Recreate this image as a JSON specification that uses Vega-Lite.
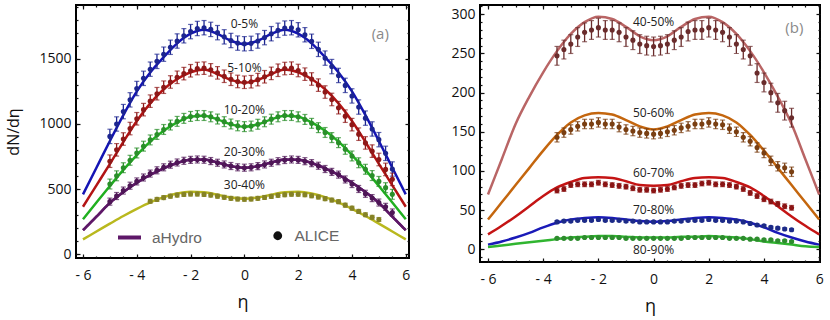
{
"$schema": "https://vega.github.io/schema/vega-lite/v6.json",
"padding": {"left": 4, "top": 3, "right": 0, "bottom": 0},
"spacing": 37,
"config": {
  "view": {"stroke": "#000", "strokeWidth": 2},
  "font": "Open Sans",
  "axis": {"domain": false, "grid": false, "labelFont": "Open Sans", "labelFontSize": 14, "labelColor": "#111", "tickColor": "#111", "tickWidth": 1.2, "titleFont": "Open Sans", "titleFontWeight": "normal", "titleColor": "#111", "labelOverlap": false, "labelFlush": false, "labelBound": false}
},
"resolve": {"scale": {"shape": "independent", "strokeDash": "independent"}, "legend": {"shape": "independent", "strokeDash": "independent"}},
"datasets": {
"lines_a": [
{"s":"0-5%","x":-6,"y":461},{"s":"0-5%","x":-5.5,"y":665},{"s":"0-5%","x":-5,"y":870},{"s":"0-5%","x":-4.5,"y":1068},{"s":"0-5%","x":-4,"y":1250},{"s":"0-5%","x":-3.5,"y":1395},{"s":"0-5%","x":-3,"y":1512},{"s":"0-5%","x":-2.5,"y":1618},{"s":"0-5%","x":-2,"y":1692},{"s":"0-5%","x":-1.5,"y":1722},{"s":"0-5%","x":-1,"y":1690},{"s":"0-5%","x":-0.5,"y":1638},{"s":"0-5%","x":0,"y":1612},{"s":"0-5%","x":0.5,"y":1638},{"s":"0-5%","x":1,"y":1690},{"s":"0-5%","x":1.5,"y":1722},{"s":"0-5%","x":2,"y":1692},{"s":"0-5%","x":2.5,"y":1618},{"s":"0-5%","x":3,"y":1512},{"s":"0-5%","x":3.5,"y":1395},{"s":"0-5%","x":4,"y":1250},{"s":"0-5%","x":4.5,"y":1068},{"s":"0-5%","x":5,"y":870},{"s":"0-5%","x":5.5,"y":665},{"s":"0-5%","x":6,"y":461},
{"s":"5-10%","x":-6,"y":366},{"s":"5-10%","x":-5.5,"y":530},{"s":"5-10%","x":-5,"y":694},{"s":"5-10%","x":-4.5,"y":862},{"s":"5-10%","x":-4,"y":1023},{"s":"5-10%","x":-3.5,"y":1158},{"s":"5-10%","x":-3,"y":1266},{"s":"5-10%","x":-2.5,"y":1345},{"s":"5-10%","x":-2,"y":1397},{"s":"5-10%","x":-1.5,"y":1418},{"s":"5-10%","x":-1,"y":1382},{"s":"5-10%","x":-0.5,"y":1338},{"s":"5-10%","x":0,"y":1316},{"s":"5-10%","x":0.5,"y":1338},{"s":"5-10%","x":1,"y":1382},{"s":"5-10%","x":1.5,"y":1418},{"s":"5-10%","x":2,"y":1397},{"s":"5-10%","x":2.5,"y":1345},{"s":"5-10%","x":3,"y":1266},{"s":"5-10%","x":3.5,"y":1158},{"s":"5-10%","x":4,"y":1023},{"s":"5-10%","x":4.5,"y":862},{"s":"5-10%","x":5,"y":694},{"s":"5-10%","x":5.5,"y":530},{"s":"5-10%","x":6,"y":366},
{"s":"10-20%","x":-6,"y":270},{"s":"10-20%","x":-5.5,"y":398},{"s":"10-20%","x":-5,"y":525},{"s":"10-20%","x":-4.5,"y":648},{"s":"10-20%","x":-4,"y":762},{"s":"10-20%","x":-3.5,"y":865},{"s":"10-20%","x":-3,"y":948},{"s":"10-20%","x":-2.5,"y":1012},{"s":"10-20%","x":-2,"y":1055},{"s":"10-20%","x":-1.5,"y":1064},{"s":"10-20%","x":-1,"y":1035},{"s":"10-20%","x":-0.5,"y":997},{"s":"10-20%","x":0,"y":979},{"s":"10-20%","x":0.5,"y":997},{"s":"10-20%","x":1,"y":1035},{"s":"10-20%","x":1.5,"y":1064},{"s":"10-20%","x":2,"y":1055},{"s":"10-20%","x":2.5,"y":1012},{"s":"10-20%","x":3,"y":948},{"s":"10-20%","x":3.5,"y":865},{"s":"10-20%","x":4,"y":762},{"s":"10-20%","x":4.5,"y":648},{"s":"10-20%","x":5,"y":525},{"s":"10-20%","x":5.5,"y":398},{"s":"10-20%","x":6,"y":270},
{"s":"20-30%","x":-6,"y":186},{"s":"20-30%","x":-5.5,"y":290},{"s":"20-30%","x":-5,"y":395},{"s":"20-30%","x":-4.5,"y":478},{"s":"20-30%","x":-4,"y":550},{"s":"20-30%","x":-3.5,"y":610},{"s":"20-30%","x":-3,"y":660},{"s":"20-30%","x":-2.5,"y":701},{"s":"20-30%","x":-2,"y":726},{"s":"20-30%","x":-1.5,"y":727},{"s":"20-30%","x":-1,"y":705},{"s":"20-30%","x":-0.5,"y":677},{"s":"20-30%","x":0,"y":665},{"s":"20-30%","x":0.5,"y":677},{"s":"20-30%","x":1,"y":705},{"s":"20-30%","x":1.5,"y":727},{"s":"20-30%","x":2,"y":726},{"s":"20-30%","x":2.5,"y":701},{"s":"20-30%","x":3,"y":660},{"s":"20-30%","x":3.5,"y":610},{"s":"20-30%","x":4,"y":550},{"s":"20-30%","x":4.5,"y":478},{"s":"20-30%","x":5,"y":395},{"s":"20-30%","x":5.5,"y":290},{"s":"20-30%","x":6,"y":186},
{"s":"30-40%","x":-6,"y":116},{"s":"30-40%","x":-5.5,"y":176},{"s":"30-40%","x":-5,"y":236},{"s":"30-40%","x":-4.5,"y":295},{"s":"30-40%","x":-4,"y":350},{"s":"30-40%","x":-3.5,"y":400},{"s":"30-40%","x":-3,"y":440},{"s":"30-40%","x":-2.5,"y":468},{"s":"30-40%","x":-2,"y":480},{"s":"30-40%","x":-1.5,"y":476},{"s":"30-40%","x":-1,"y":458},{"s":"30-40%","x":-0.5,"y":437},{"s":"30-40%","x":0,"y":428},{"s":"30-40%","x":0.5,"y":437},{"s":"30-40%","x":1,"y":458},{"s":"30-40%","x":1.5,"y":476},{"s":"30-40%","x":2,"y":480},{"s":"30-40%","x":2.5,"y":468},{"s":"30-40%","x":3,"y":440},{"s":"30-40%","x":3.5,"y":400},{"s":"30-40%","x":4,"y":350},{"s":"30-40%","x":4.5,"y":295},{"s":"30-40%","x":5,"y":236},{"s":"30-40%","x":5.5,"y":176},{"s":"30-40%","x":6,"y":116}
],
"pts_a": [
{"s":"0-5%","x":-5,"y":905,"e":55},{"s":"0-5%","x":-4.75,"y":1000,"e":55},{"s":"0-5%","x":-4.5,"y":1095,"e":55},{"s":"0-5%","x":-4.25,"y":1185,"e":55},{"s":"0-5%","x":-4,"y":1272,"e":55},{"s":"0-5%","x":-3.75,"y":1350,"e":55},{"s":"0-5%","x":-3.5,"y":1420,"e":55},{"s":"0-5%","x":-3.25,"y":1480,"e":55},{"s":"0-5%","x":-3,"y":1535,"e":55},{"s":"0-5%","x":-2.75,"y":1588,"e":55},{"s":"0-5%","x":-2.5,"y":1636,"e":55},{"s":"0-5%","x":-2.25,"y":1676,"e":55},{"s":"0-5%","x":-2,"y":1708,"e":55},{"s":"0-5%","x":-1.75,"y":1732,"e":55},{"s":"0-5%","x":-1.5,"y":1738,"e":55},{"s":"0-5%","x":-1.25,"y":1725,"e":55},{"s":"0-5%","x":-1,"y":1700,"e":55},{"s":"0-5%","x":-0.75,"y":1668,"e":55},{"s":"0-5%","x":-0.5,"y":1640,"e":55},{"s":"0-5%","x":-0.25,"y":1620,"e":55},{"s":"0-5%","x":0,"y":1615,"e":55},{"s":"0-5%","x":0.25,"y":1618,"e":55},{"s":"0-5%","x":0.5,"y":1636,"e":55},{"s":"0-5%","x":0.75,"y":1662,"e":55},{"s":"0-5%","x":1,"y":1692,"e":55},{"s":"0-5%","x":1.25,"y":1718,"e":55},{"s":"0-5%","x":1.5,"y":1735,"e":55},{"s":"0-5%","x":1.75,"y":1738,"e":55},{"s":"0-5%","x":2,"y":1722,"e":55},{"s":"0-5%","x":2.25,"y":1684,"e":55},{"s":"0-5%","x":2.5,"y":1634,"e":55},{"s":"0-5%","x":2.75,"y":1572,"e":55},{"s":"0-5%","x":3,"y":1505,"e":55},{"s":"0-5%","x":3.25,"y":1440,"e":55},{"s":"0-5%","x":3.5,"y":1372,"e":55},{"s":"0-5%","x":3.75,"y":1296,"e":55},{"s":"0-5%","x":4,"y":1215,"e":55},{"s":"0-5%","x":4.25,"y":1130,"e":55},{"s":"0-5%","x":4.5,"y":1045,"e":55},{"s":"0-5%","x":4.75,"y":962,"e":55},{"s":"0-5%","x":5,"y":880,"e":55},{"s":"0-5%","x":5.25,"y":775,"e":55},{"s":"0-5%","x":5.5,"y":655,"e":55},
{"s":"5-10%","x":-5,"y":715,"e":48},{"s":"5-10%","x":-4.75,"y":802,"e":48},{"s":"5-10%","x":-4.5,"y":885,"e":48},{"s":"5-10%","x":-4.25,"y":965,"e":48},{"s":"5-10%","x":-4,"y":1040,"e":48},{"s":"5-10%","x":-3.75,"y":1110,"e":48},{"s":"5-10%","x":-3.5,"y":1175,"e":48},{"s":"5-10%","x":-3.25,"y":1232,"e":48},{"s":"5-10%","x":-3,"y":1282,"e":48},{"s":"5-10%","x":-2.75,"y":1322,"e":48},{"s":"5-10%","x":-2.5,"y":1358,"e":48},{"s":"5-10%","x":-2.25,"y":1386,"e":48},{"s":"5-10%","x":-2,"y":1408,"e":48},{"s":"5-10%","x":-1.75,"y":1425,"e":48},{"s":"5-10%","x":-1.5,"y":1428,"e":48},{"s":"5-10%","x":-1.25,"y":1415,"e":48},{"s":"5-10%","x":-1,"y":1392,"e":48},{"s":"5-10%","x":-0.75,"y":1366,"e":48},{"s":"5-10%","x":-0.5,"y":1343,"e":48},{"s":"5-10%","x":-0.25,"y":1326,"e":48},{"s":"5-10%","x":0,"y":1320,"e":48},{"s":"5-10%","x":0.25,"y":1324,"e":48},{"s":"5-10%","x":0.5,"y":1340,"e":48},{"s":"5-10%","x":0.75,"y":1362,"e":48},{"s":"5-10%","x":1,"y":1388,"e":48},{"s":"5-10%","x":1.25,"y":1412,"e":48},{"s":"5-10%","x":1.5,"y":1425,"e":48},{"s":"5-10%","x":1.75,"y":1428,"e":48},{"s":"5-10%","x":2,"y":1410,"e":48},{"s":"5-10%","x":2.25,"y":1382,"e":48},{"s":"5-10%","x":2.5,"y":1345,"e":48},{"s":"5-10%","x":2.75,"y":1298,"e":48},{"s":"5-10%","x":3,"y":1245,"e":48},{"s":"5-10%","x":3.25,"y":1188,"e":48},{"s":"5-10%","x":3.5,"y":1125,"e":48},{"s":"5-10%","x":3.75,"y":1060,"e":48},{"s":"5-10%","x":4,"y":995,"e":48},{"s":"5-10%","x":4.25,"y":922,"e":48},{"s":"5-10%","x":4.5,"y":855,"e":48},{"s":"5-10%","x":4.75,"y":792,"e":48},{"s":"5-10%","x":5,"y":728,"e":48},{"s":"5-10%","x":5.25,"y":652,"e":48},{"s":"5-10%","x":5.5,"y":576,"e":48},
{"s":"10-20%","x":-5,"y":540,"e":38},{"s":"10-20%","x":-4.75,"y":603,"e":38},{"s":"10-20%","x":-4.5,"y":665,"e":38},{"s":"10-20%","x":-4.25,"y":722,"e":38},{"s":"10-20%","x":-4,"y":778,"e":38},{"s":"10-20%","x":-3.75,"y":830,"e":38},{"s":"10-20%","x":-3.5,"y":878,"e":38},{"s":"10-20%","x":-3.25,"y":920,"e":38},{"s":"10-20%","x":-3,"y":958,"e":38},{"s":"10-20%","x":-2.75,"y":992,"e":38},{"s":"10-20%","x":-2.5,"y":1020,"e":38},{"s":"10-20%","x":-2.25,"y":1043,"e":38},{"s":"10-20%","x":-2,"y":1058,"e":38},{"s":"10-20%","x":-1.75,"y":1065,"e":38},{"s":"10-20%","x":-1.5,"y":1065,"e":38},{"s":"10-20%","x":-1.25,"y":1055,"e":38},{"s":"10-20%","x":-1,"y":1038,"e":38},{"s":"10-20%","x":-0.75,"y":1018,"e":38},{"s":"10-20%","x":-0.5,"y":1000,"e":38},{"s":"10-20%","x":-0.25,"y":986,"e":38},{"s":"10-20%","x":0,"y":980,"e":38},{"s":"10-20%","x":0.25,"y":984,"e":38},{"s":"10-20%","x":0.5,"y":998,"e":38},{"s":"10-20%","x":0.75,"y":1017,"e":38},{"s":"10-20%","x":1,"y":1037,"e":38},{"s":"10-20%","x":1.25,"y":1055,"e":38},{"s":"10-20%","x":1.5,"y":1065,"e":38},{"s":"10-20%","x":1.75,"y":1065,"e":38},{"s":"10-20%","x":2,"y":1055,"e":38},{"s":"10-20%","x":2.25,"y":1035,"e":38},{"s":"10-20%","x":2.5,"y":1005,"e":38},{"s":"10-20%","x":2.75,"y":972,"e":38},{"s":"10-20%","x":3,"y":935,"e":38},{"s":"10-20%","x":3.25,"y":896,"e":38},{"s":"10-20%","x":3.5,"y":857,"e":38},{"s":"10-20%","x":3.75,"y":806,"e":38},{"s":"10-20%","x":4,"y":755,"e":38},{"s":"10-20%","x":4.25,"y":703,"e":38},{"s":"10-20%","x":4.5,"y":653,"e":38},{"s":"10-20%","x":4.75,"y":605,"e":38},{"s":"10-20%","x":5,"y":560,"e":38},{"s":"10-20%","x":5.25,"y":512,"e":38},{"s":"10-20%","x":5.5,"y":461,"e":38},
{"s":"20-30%","x":-5,"y":405,"e":27},{"s":"20-30%","x":-4.75,"y":448,"e":27},{"s":"20-30%","x":-4.5,"y":490,"e":27},{"s":"20-30%","x":-4.25,"y":527,"e":27},{"s":"20-30%","x":-4,"y":560,"e":27},{"s":"20-30%","x":-3.75,"y":590,"e":27},{"s":"20-30%","x":-3.5,"y":620,"e":27},{"s":"20-30%","x":-3.25,"y":645,"e":27},{"s":"20-30%","x":-3,"y":668,"e":27},{"s":"20-30%","x":-2.75,"y":688,"e":27},{"s":"20-30%","x":-2.5,"y":705,"e":27},{"s":"20-30%","x":-2.25,"y":718,"e":27},{"s":"20-30%","x":-2,"y":725,"e":27},{"s":"20-30%","x":-1.75,"y":728,"e":27},{"s":"20-30%","x":-1.5,"y":726,"e":27},{"s":"20-30%","x":-1.25,"y":716,"e":27},{"s":"20-30%","x":-1,"y":703,"e":27},{"s":"20-30%","x":-0.75,"y":690,"e":27},{"s":"20-30%","x":-0.5,"y":678,"e":27},{"s":"20-30%","x":-0.25,"y":668,"e":27},{"s":"20-30%","x":0,"y":665,"e":27},{"s":"20-30%","x":0.25,"y":668,"e":27},{"s":"20-30%","x":0.5,"y":677,"e":27},{"s":"20-30%","x":0.75,"y":690,"e":27},{"s":"20-30%","x":1,"y":703,"e":27},{"s":"20-30%","x":1.25,"y":715,"e":27},{"s":"20-30%","x":1.5,"y":724,"e":27},{"s":"20-30%","x":1.75,"y":728,"e":27},{"s":"20-30%","x":2,"y":725,"e":27},{"s":"20-30%","x":2.25,"y":715,"e":27},{"s":"20-30%","x":2.5,"y":700,"e":27},{"s":"20-30%","x":2.75,"y":680,"e":27},{"s":"20-30%","x":3,"y":655,"e":27},{"s":"20-30%","x":3.25,"y":633,"e":27},{"s":"20-30%","x":3.5,"y":612,"e":27},{"s":"20-30%","x":3.75,"y":575,"e":27},{"s":"20-30%","x":4,"y":540,"e":27},{"s":"20-30%","x":4.25,"y":502,"e":27},{"s":"20-30%","x":4.5,"y":465,"e":27},{"s":"20-30%","x":4.75,"y":432,"e":27},{"s":"20-30%","x":5,"y":398,"e":27},{"s":"20-30%","x":5.25,"y":365,"e":27},{"s":"20-30%","x":5.5,"y":322,"e":27},
{"s":"30-40%","x":-3.5,"y":408,"e":15},{"s":"30-40%","x":-3.25,"y":422,"e":15},{"s":"30-40%","x":-3,"y":436,"e":15},{"s":"30-40%","x":-2.75,"y":447,"e":15},{"s":"30-40%","x":-2.5,"y":455,"e":15},{"s":"30-40%","x":-2.25,"y":460,"e":15},{"s":"30-40%","x":-2,"y":463,"e":15},{"s":"30-40%","x":-1.75,"y":463,"e":15},{"s":"30-40%","x":-1.5,"y":460,"e":15},{"s":"30-40%","x":-1.25,"y":455,"e":15},{"s":"30-40%","x":-1,"y":447,"e":15},{"s":"30-40%","x":-0.75,"y":438,"e":15},{"s":"30-40%","x":-0.5,"y":430,"e":15},{"s":"30-40%","x":-0.25,"y":425,"e":15},{"s":"30-40%","x":0,"y":423,"e":15},{"s":"30-40%","x":0.25,"y":425,"e":15},{"s":"30-40%","x":0.5,"y":430,"e":15},{"s":"30-40%","x":0.75,"y":437,"e":15},{"s":"30-40%","x":1,"y":445,"e":15},{"s":"30-40%","x":1.25,"y":453,"e":15},{"s":"30-40%","x":1.5,"y":458,"e":15},{"s":"30-40%","x":1.75,"y":462,"e":15},{"s":"30-40%","x":2,"y":462,"e":15},{"s":"30-40%","x":2.25,"y":458,"e":15},{"s":"30-40%","x":2.5,"y":450,"e":15},{"s":"30-40%","x":2.75,"y":440,"e":15},{"s":"30-40%","x":3,"y":428,"e":15},{"s":"30-40%","x":3.25,"y":417,"e":15},{"s":"30-40%","x":3.5,"y":405,"e":15},{"s":"30-40%","x":3.75,"y":378,"e":15},{"s":"30-40%","x":4,"y":355,"e":15},{"s":"30-40%","x":4.25,"y":330,"e":15},{"s":"30-40%","x":4.5,"y":305,"e":15},{"s":"30-40%","x":4.75,"y":285,"e":15},{"s":"30-40%","x":5,"y":268,"e":15}
],
"lab_a": [
{"s":"0-5%","x":0,"y":1764},{"s":"5-10%","x":0,"y":1431},{"s":"10-20%","x":0,"y":1105},{"s":"20-30%","x":0,"y":788},{"s":"30-40%","x":0,"y":530},{"s":"(a)","x":5.05,"y":1687}
],
"lines_b": [
{"s":"40-50%","x":-6,"y":70},{"s":"40-50%","x":-5.5,"y":115},{"s":"40-50%","x":-5,"y":160},{"s":"40-50%","x":-4.5,"y":195},{"s":"40-50%","x":-4,"y":226},{"s":"40-50%","x":-3.5,"y":253},{"s":"40-50%","x":-3,"y":275},{"s":"40-50%","x":-2.5,"y":290},{"s":"40-50%","x":-2,"y":297},{"s":"40-50%","x":-1.5,"y":294},{"s":"40-50%","x":-1,"y":284},{"s":"40-50%","x":-0.5,"y":272},{"s":"40-50%","x":0,"y":267},{"s":"40-50%","x":0.5,"y":272},{"s":"40-50%","x":1,"y":284},{"s":"40-50%","x":1.5,"y":294},{"s":"40-50%","x":2,"y":297},{"s":"40-50%","x":2.5,"y":290},{"s":"40-50%","x":3,"y":275},{"s":"40-50%","x":3.5,"y":253},{"s":"40-50%","x":4,"y":226},{"s":"40-50%","x":4.5,"y":195},{"s":"40-50%","x":5,"y":160},{"s":"40-50%","x":5.5,"y":115},{"s":"40-50%","x":6,"y":70},
{"s":"50-60%","x":-6,"y":38},{"s":"50-60%","x":-5.5,"y":60},{"s":"50-60%","x":-5,"y":82},{"s":"50-60%","x":-4.5,"y":104},{"s":"50-60%","x":-4,"y":126},{"s":"50-60%","x":-3.5,"y":146},{"s":"50-60%","x":-3,"y":162},{"s":"50-60%","x":-2.5,"y":171},{"s":"50-60%","x":-2,"y":174},{"s":"50-60%","x":-1.5,"y":172},{"s":"50-60%","x":-1,"y":165},{"s":"50-60%","x":-0.5,"y":157},{"s":"50-60%","x":0,"y":153},{"s":"50-60%","x":0.5,"y":157},{"s":"50-60%","x":1,"y":165},{"s":"50-60%","x":1.5,"y":172},{"s":"50-60%","x":2,"y":174},{"s":"50-60%","x":2.5,"y":171},{"s":"50-60%","x":3,"y":162},{"s":"50-60%","x":3.5,"y":146},{"s":"50-60%","x":4,"y":126},{"s":"50-60%","x":4.5,"y":104},{"s":"50-60%","x":5,"y":82},{"s":"50-60%","x":5.5,"y":60},{"s":"50-60%","x":6,"y":38},
{"s":"60-70%","x":-6,"y":19},{"s":"60-70%","x":-5.5,"y":30},{"s":"60-70%","x":-5,"y":42},{"s":"60-70%","x":-4.5,"y":55},{"s":"60-70%","x":-4,"y":68},{"s":"60-70%","x":-3.5,"y":79},{"s":"60-70%","x":-3,"y":86},{"s":"60-70%","x":-2.5,"y":91},{"s":"60-70%","x":-2,"y":92},{"s":"60-70%","x":-1.5,"y":91},{"s":"60-70%","x":-1,"y":87},{"s":"60-70%","x":-0.5,"y":82},{"s":"60-70%","x":0,"y":81},{"s":"60-70%","x":0.5,"y":82},{"s":"60-70%","x":1,"y":87},{"s":"60-70%","x":1.5,"y":91},{"s":"60-70%","x":2,"y":92},{"s":"60-70%","x":2.5,"y":91},{"s":"60-70%","x":3,"y":86},{"s":"60-70%","x":3.5,"y":79},{"s":"60-70%","x":4,"y":68},{"s":"60-70%","x":4.5,"y":55},{"s":"60-70%","x":5,"y":42},{"s":"60-70%","x":5.5,"y":30},{"s":"60-70%","x":6,"y":19},
{"s":"70-80%","x":-6,"y":6},{"s":"70-80%","x":-5.5,"y":10},{"s":"70-80%","x":-5,"y":15},{"s":"70-80%","x":-4.5,"y":21},{"s":"70-80%","x":-4,"y":28},{"s":"70-80%","x":-3.5,"y":34},{"s":"70-80%","x":-3,"y":38},{"s":"70-80%","x":-2.5,"y":40},{"s":"70-80%","x":-2,"y":41},{"s":"70-80%","x":-1.5,"y":40},{"s":"70-80%","x":-1,"y":38},{"s":"70-80%","x":-0.5,"y":36},{"s":"70-80%","x":0,"y":35},{"s":"70-80%","x":0.5,"y":36},{"s":"70-80%","x":1,"y":38},{"s":"70-80%","x":1.5,"y":40},{"s":"70-80%","x":2,"y":41},{"s":"70-80%","x":2.5,"y":40},{"s":"70-80%","x":3,"y":38},{"s":"70-80%","x":3.5,"y":34},{"s":"70-80%","x":4,"y":28},{"s":"70-80%","x":4.5,"y":21},{"s":"70-80%","x":5,"y":15},{"s":"70-80%","x":5.5,"y":10},{"s":"70-80%","x":6,"y":6},
{"s":"80-90%","x":-6,"y":3},{"s":"80-90%","x":-5.5,"y":5},{"s":"80-90%","x":-5,"y":7},{"s":"80-90%","x":-4.5,"y":9},{"s":"80-90%","x":-4,"y":11},{"s":"80-90%","x":-3.5,"y":13},{"s":"80-90%","x":-3,"y":15},{"s":"80-90%","x":-2.5,"y":16},{"s":"80-90%","x":-2,"y":17},{"s":"80-90%","x":-1.5,"y":17},{"s":"80-90%","x":-1,"y":16},{"s":"80-90%","x":-0.5,"y":15},{"s":"80-90%","x":0,"y":15},{"s":"80-90%","x":0.5,"y":15},{"s":"80-90%","x":1,"y":16},{"s":"80-90%","x":1.5,"y":16},{"s":"80-90%","x":2,"y":17},{"s":"80-90%","x":2.5,"y":16},{"s":"80-90%","x":3,"y":15},{"s":"80-90%","x":3.5,"y":13},{"s":"80-90%","x":4,"y":10},{"s":"80-90%","x":4.5,"y":8},{"s":"80-90%","x":5,"y":6},{"s":"80-90%","x":5.5,"y":4},{"s":"80-90%","x":6,"y":3}
],
"pts_b": [
{"s":"40-50%","x":-3.5,"y":247,"e":12},{"s":"40-50%","x":-3.25,"y":255,"e":12},{"s":"40-50%","x":-3,"y":262,"e":12},{"s":"40-50%","x":-2.75,"y":271,"e":12},{"s":"40-50%","x":-2.5,"y":277,"e":12},{"s":"40-50%","x":-2.25,"y":280,"e":12},{"s":"40-50%","x":-2,"y":283,"e":12},{"s":"40-50%","x":-1.75,"y":280,"e":12},{"s":"40-50%","x":-1.5,"y":280,"e":12},{"s":"40-50%","x":-1.25,"y":277,"e":12},{"s":"40-50%","x":-1,"y":271,"e":12},{"s":"40-50%","x":-0.75,"y":267,"e":12},{"s":"40-50%","x":-0.5,"y":262,"e":12},{"s":"40-50%","x":-0.25,"y":260,"e":12},{"s":"40-50%","x":0,"y":259,"e":12},{"s":"40-50%","x":0.25,"y":260,"e":12},{"s":"40-50%","x":0.5,"y":262,"e":12},{"s":"40-50%","x":0.75,"y":267,"e":12},{"s":"40-50%","x":1,"y":271,"e":12},{"s":"40-50%","x":1.25,"y":278,"e":12},{"s":"40-50%","x":1.5,"y":280,"e":12},{"s":"40-50%","x":1.75,"y":280,"e":12},{"s":"40-50%","x":2,"y":283,"e":12},{"s":"40-50%","x":2.25,"y":280,"e":12},{"s":"40-50%","x":2.5,"y":277,"e":12},{"s":"40-50%","x":2.75,"y":271,"e":12},{"s":"40-50%","x":3,"y":262,"e":12},{"s":"40-50%","x":3.25,"y":255,"e":12},{"s":"40-50%","x":3.5,"y":247,"e":12},{"s":"40-50%","x":3.75,"y":225,"e":12},{"s":"40-50%","x":4,"y":213,"e":12},{"s":"40-50%","x":4.25,"y":200,"e":12},{"s":"40-50%","x":4.5,"y":187,"e":12},{"s":"40-50%","x":4.75,"y":177,"e":12},{"s":"40-50%","x":5,"y":168,"e":12},
{"s":"50-60%","x":-3.5,"y":143,"e":6},{"s":"50-60%","x":-3.25,"y":149,"e":6},{"s":"50-60%","x":-3,"y":153,"e":6},{"s":"50-60%","x":-2.75,"y":157,"e":6},{"s":"50-60%","x":-2.5,"y":160,"e":6},{"s":"50-60%","x":-2.25,"y":160,"e":6},{"s":"50-60%","x":-2,"y":162,"e":6},{"s":"50-60%","x":-1.75,"y":160,"e":6},{"s":"50-60%","x":-1.5,"y":160,"e":6},{"s":"50-60%","x":-1.25,"y":156,"e":6},{"s":"50-60%","x":-1,"y":153,"e":6},{"s":"50-60%","x":-0.75,"y":151,"e":6},{"s":"50-60%","x":-0.5,"y":149,"e":6},{"s":"50-60%","x":-0.25,"y":148,"e":6},{"s":"50-60%","x":0,"y":147,"e":6},{"s":"50-60%","x":0.25,"y":148,"e":6},{"s":"50-60%","x":0.5,"y":150,"e":6},{"s":"50-60%","x":0.75,"y":152,"e":6},{"s":"50-60%","x":1,"y":155,"e":6},{"s":"50-60%","x":1.25,"y":157,"e":6},{"s":"50-60%","x":1.5,"y":160,"e":6},{"s":"50-60%","x":1.75,"y":160,"e":6},{"s":"50-60%","x":2,"y":162,"e":6},{"s":"50-60%","x":2.25,"y":160,"e":6},{"s":"50-60%","x":2.5,"y":159,"e":6},{"s":"50-60%","x":2.75,"y":154,"e":6},{"s":"50-60%","x":3,"y":150,"e":6},{"s":"50-60%","x":3.25,"y":143,"e":6},{"s":"50-60%","x":3.5,"y":138,"e":6},{"s":"50-60%","x":3.75,"y":130,"e":6},{"s":"50-60%","x":4,"y":123,"e":6},{"s":"50-60%","x":4.25,"y":113,"e":6},{"s":"50-60%","x":4.5,"y":106,"e":6},{"s":"50-60%","x":4.75,"y":104,"e":6},{"s":"50-60%","x":5,"y":99,"e":6},
{"s":"60-70%","x":-3.5,"y":75,"e":3},{"s":"60-70%","x":-3.25,"y":77,"e":3},{"s":"60-70%","x":-3,"y":82,"e":3},{"s":"60-70%","x":-2.75,"y":83,"e":3},{"s":"60-70%","x":-2.5,"y":83,"e":3},{"s":"60-70%","x":-2.25,"y":83,"e":3},{"s":"60-70%","x":-2,"y":85,"e":3},{"s":"60-70%","x":-1.75,"y":83,"e":3},{"s":"60-70%","x":-1.5,"y":82,"e":3},{"s":"60-70%","x":-1.25,"y":81,"e":3},{"s":"60-70%","x":-1,"y":80,"e":3},{"s":"60-70%","x":-0.75,"y":78,"e":3},{"s":"60-70%","x":-0.5,"y":76,"e":3},{"s":"60-70%","x":-0.25,"y":76,"e":3},{"s":"60-70%","x":0,"y":75,"e":3},{"s":"60-70%","x":0.25,"y":76,"e":3},{"s":"60-70%","x":0.5,"y":77,"e":3},{"s":"60-70%","x":0.75,"y":79,"e":3},{"s":"60-70%","x":1,"y":81,"e":3},{"s":"60-70%","x":1.25,"y":82,"e":3},{"s":"60-70%","x":1.5,"y":82,"e":3},{"s":"60-70%","x":1.75,"y":84,"e":3},{"s":"60-70%","x":2,"y":85,"e":3},{"s":"60-70%","x":2.25,"y":83,"e":3},{"s":"60-70%","x":2.5,"y":83,"e":3},{"s":"60-70%","x":2.75,"y":82,"e":3},{"s":"60-70%","x":3,"y":80,"e":3},{"s":"60-70%","x":3.25,"y":77,"e":3},{"s":"60-70%","x":3.5,"y":72,"e":3},{"s":"60-70%","x":3.75,"y":68,"e":3},{"s":"60-70%","x":4,"y":64,"e":3},{"s":"60-70%","x":4.25,"y":61,"e":3},{"s":"60-70%","x":4.5,"y":58,"e":3},{"s":"60-70%","x":4.75,"y":55,"e":3},{"s":"60-70%","x":5,"y":53,"e":3},
{"s":"70-80%","x":-3.5,"y":35,"e":1.5},{"s":"70-80%","x":-3.25,"y":36,"e":1.5},{"s":"70-80%","x":-3,"y":36,"e":1.5},{"s":"70-80%","x":-2.75,"y":37,"e":1.5},{"s":"70-80%","x":-2.5,"y":37,"e":1.5},{"s":"70-80%","x":-2.25,"y":37,"e":1.5},{"s":"70-80%","x":-2,"y":38,"e":1.5},{"s":"70-80%","x":-1.75,"y":37,"e":1.5},{"s":"70-80%","x":-1.5,"y":37,"e":1.5},{"s":"70-80%","x":-1.25,"y":37,"e":1.5},{"s":"70-80%","x":-1,"y":36,"e":1.5},{"s":"70-80%","x":-0.75,"y":36,"e":1.5},{"s":"70-80%","x":-0.5,"y":35,"e":1.5},{"s":"70-80%","x":-0.25,"y":35,"e":1.5},{"s":"70-80%","x":0,"y":35,"e":1.5},{"s":"70-80%","x":0.25,"y":35,"e":1.5},{"s":"70-80%","x":0.5,"y":35,"e":1.5},{"s":"70-80%","x":0.75,"y":36,"e":1.5},{"s":"70-80%","x":1,"y":36,"e":1.5},{"s":"70-80%","x":1.25,"y":37,"e":1.5},{"s":"70-80%","x":1.5,"y":37,"e":1.5},{"s":"70-80%","x":1.75,"y":37,"e":1.5},{"s":"70-80%","x":2,"y":38,"e":1.5},{"s":"70-80%","x":2.25,"y":37,"e":1.5},{"s":"70-80%","x":2.5,"y":37,"e":1.5},{"s":"70-80%","x":2.75,"y":36,"e":1.5},{"s":"70-80%","x":3,"y":36,"e":1.5},{"s":"70-80%","x":3.25,"y":35,"e":1.5},{"s":"70-80%","x":3.5,"y":33,"e":1.5},{"s":"70-80%","x":3.75,"y":31,"e":1.5},{"s":"70-80%","x":4,"y":30,"e":1.5},{"s":"70-80%","x":4.25,"y":28,"e":1.5},{"s":"70-80%","x":4.5,"y":27,"e":1.5},{"s":"70-80%","x":4.75,"y":26,"e":1.5},{"s":"70-80%","x":5,"y":25,"e":1.5},
{"s":"80-90%","x":-3.5,"y":14,"e":1},{"s":"80-90%","x":-3.25,"y":14,"e":1},{"s":"80-90%","x":-3,"y":14,"e":1},{"s":"80-90%","x":-2.75,"y":14,"e":1},{"s":"80-90%","x":-2.5,"y":15,"e":1},{"s":"80-90%","x":-2.25,"y":15,"e":1},{"s":"80-90%","x":-2,"y":15,"e":1},{"s":"80-90%","x":-1.75,"y":15,"e":1},{"s":"80-90%","x":-1.5,"y":15,"e":1},{"s":"80-90%","x":-1.25,"y":15,"e":1},{"s":"80-90%","x":-1,"y":14,"e":1},{"s":"80-90%","x":-0.75,"y":14,"e":1},{"s":"80-90%","x":-0.5,"y":14,"e":1},{"s":"80-90%","x":-0.25,"y":14,"e":1},{"s":"80-90%","x":0,"y":14,"e":1},{"s":"80-90%","x":0.25,"y":14,"e":1},{"s":"80-90%","x":0.5,"y":14,"e":1},{"s":"80-90%","x":0.75,"y":14,"e":1},{"s":"80-90%","x":1,"y":14,"e":1},{"s":"80-90%","x":1.25,"y":15,"e":1},{"s":"80-90%","x":1.5,"y":15,"e":1},{"s":"80-90%","x":1.75,"y":15,"e":1},{"s":"80-90%","x":2,"y":15,"e":1},{"s":"80-90%","x":2.25,"y":15,"e":1},{"s":"80-90%","x":2.5,"y":15,"e":1},{"s":"80-90%","x":2.75,"y":14,"e":1},{"s":"80-90%","x":3,"y":14,"e":1},{"s":"80-90%","x":3.25,"y":14,"e":1},{"s":"80-90%","x":3.5,"y":13,"e":1},{"s":"80-90%","x":3.75,"y":13,"e":1},{"s":"80-90%","x":4,"y":12,"e":1},{"s":"80-90%","x":4.25,"y":12,"e":1},{"s":"80-90%","x":4.5,"y":11,"e":1},{"s":"80-90%","x":4.75,"y":11,"e":1},{"s":"80-90%","x":5,"y":10,"e":1}
],
"lab_b": [
{"s":"40-50%","x":0,"y":290.6},{"s":"50-60%","x":0,"y":174.4},{"s":"60-70%","x":0,"y":97.8},{"s":"70-80%","x":0,"y":49.8},{"s":"80-90%","x":0,"y":-1.3},{"s":"(b)","x":5.1,"y":283}
]
},
"hconcat": [
{
 "width": 333, "height": 253,
 "resolve": {"axis": {"x": "independent", "y": "independent"}},
 "layer": [
  {"data": {"name": "lines_a"}, "mark": {"type": "line", "strokeWidth": 2.5, "interpolate": "monotone"},
   "encoding": {
    "x": {"field": "x", "type": "quantitative", "scale": {"domain": [-6.26, 6.12], "nice": false, "zero": false},
      "axis": {"orient": "bottom", "values": [-6,-4,-2,0,2,4,6], "tickSize": -4, "labelPadding": 14, "labelExpr": "datum.value < 0 ? '- ' + abs(datum.value) : datum.label", "title": "η", "titleFontSize": 18, "titlePadding": 11}},
    "y": {"field": "y", "type": "quantitative", "scale": {"domain": [-27, 1912], "nice": false, "zero": false},
      "axis": {"orient": "left", "values": [0,500,1000,1500], "tickSize": -4, "labelPadding": 9, "format": "d", "title": "dN/dη", "titleFontSize": 16, "titlePadding": 17}},
    "stroke": {"field": "s", "type": "nominal", "legend": null, "scale": {"domain": ["0-5%","5-10%","10-20%","20-30%","30-40%","40-50%","50-60%","60-70%","70-80%","80-90%"], "range": ["#1414b4","#b31414","#20b020","#5e1868","#b9b81e","#b96565","#c4660e","#c41414","#1a1ab8","#30b530"]}}
   }},
  {"data": {"name": "lines_a"}, "transform": [{"filter": "datum.s === '20-30%'"}],
   "mark": {"type": "line", "strokeWidth": 2.5, "interpolate": "monotone", "color": "#5e1868"},
   "encoding": {
    "x": {"field": "x", "type": "quantitative", "scale": {"domain": [-6.26, 6.12], "nice": false, "zero": false}, "axis": null},
    "y": {"field": "y", "type": "quantitative", "scale": {"domain": [-27, 1912], "nice": false, "zero": false}, "axis": null},
    "strokeDash": {"datum": "aHydro", "scale": {"domain": ["aHydro"], "range": [[1, 0]]},
      "legend": {"orient": "none", "legendX": 40, "legendY": 219, "title": null, "symbolType": "stroke", "symbolStrokeColor": "#5e1868", "symbolStrokeWidth": 4, "symbolSize": 529, "labelFont": "Liberation Sans", "labelFontSize": 15.5, "labelColor": "#666", "labelOffset": 9}}
   }},
  {"data": {"name": "pts_a"}, "mark": {"type": "errorbar", "ticks": {"size": 5, "thickness": 1.2}, "thickness": 1.3},
   "encoding": {
    "x": {"field": "x", "type": "quantitative", "scale": {"domain": [-6.26, 6.12], "nice": false, "zero": false},
      "axis": {"orient": "bottom", "values": [-6,-5.5,-5,-4.5,-4,-3.5,-3,-2.5,-2,-1.5,-1,-0.5,0,0.5,1,1.5,2,2.5,3,3.5,4,4.5,5,5.5,6], "tickSize": -2, "labels": false, "title": null}},
    "y": {"field": "y", "type": "quantitative", "scale": {"domain": [-27, 1912], "nice": false, "zero": false},
      "axis": {"orient": "left", "values": [0,100,200,300,400,500,600,700,800,900,1000,1100,1200,1300,1400,1500,1600,1700,1800,1900], "tickSize": -2, "labels": false, "title": null}},
    "yError": {"field": "e"},
    "color": {"field": "s", "type": "nominal", "legend": null, "scale": {"domain": ["0-5%","5-10%","10-20%","20-30%","30-40%","40-50%","50-60%","60-70%","70-80%","80-90%"], "range": ["#1c2590","#8e1818","#2a8f2a","#4e1656","#858225","#6a2c2c","#7a3f12","#8a1414","#1c2a88","#2e8c2e"]}}
   }},
  {"data": {"name": "pts_a"}, "mark": {"type": "point", "filled": true, "size": 26, "opacity": 1},
   "encoding": {
    "x": {"field": "x", "type": "quantitative", "scale": {"domain": [-6.26, 6.12], "nice": false, "zero": false},
      "axis": {"orient": "top", "values": [-6,-4,-2,0,2,4,6], "tickSize": -4, "labels": false, "title": null}},
    "y": {"field": "y", "type": "quantitative", "scale": {"domain": [-27, 1912], "nice": false, "zero": false},
      "axis": {"orient": "right", "values": [0,500,1000,1500], "tickSize": -4, "labels": false, "title": null}},
    "color": {"field": "s", "type": "nominal", "legend": null, "scale": {"domain": ["0-5%","5-10%","10-20%","20-30%","30-40%","40-50%","50-60%","60-70%","70-80%","80-90%"], "range": ["#1c2590","#8e1818","#2a8f2a","#4e1656","#858225","#6a2c2c","#7a3f12","#8a1414","#1c2a88","#2e8c2e"]}},
    "shape": {"datum": "ALICE", "scale": {"domain": ["ALICE"], "range": ["circle"]},
      "legend": {"orient": "none", "legendX": 194, "legendY": 223, "title": null, "symbolType": "circle", "symbolFillColor": "#111", "symbolStrokeWidth": 0, "symbolSize": 78, "labelFont": "Liberation Sans", "labelFontSize": 15.5, "labelColor": "#666", "labelOffset": 9}}
   }},
  {"data": {"name": "lab_a"}, "mark": {"type": "text", "font": "Open Sans", "baseline": "middle", "align": "center"},
   "encoding": {
    "x": {"field": "x", "type": "quantitative", "scale": {"domain": [-6.26, 6.12], "nice": false, "zero": false},
      "axis": {"orient": "top", "values": [-6,-5.5,-5,-4.5,-4,-3.5,-3,-2.5,-2,-1.5,-1,-0.5,0,0.5,1,1.5,2,2.5,3,3.5,4,4.5,5,5.5,6], "tickSize": -2, "labels": false, "title": null}},
    "y": {"field": "y", "type": "quantitative", "scale": {"domain": [-27, 1912], "nice": false, "zero": false},
      "axis": {"orient": "right", "values": [0,100,200,300,400,500,600,700,800,900,1000,1100,1200,1300,1400,1500,1600,1700,1800,1900], "tickSize": -2, "labels": false, "title": null}},
    "text": {"field": "s"},
    "color": {"condition": {"test": "datum.s === '(a)'", "value": "#8a8a8a"}, "value": "#222"},
    "size": {"condition": {"test": "datum.s === '(a)'", "value": 15}, "value": 12}
   }}
 ]
},
{
 "width": 340, "height": 257,
 "resolve": {"axis": {"x": "independent", "y": "independent"}},
 "layer": [
  {"data": {"name": "lines_b"}, "mark": {"type": "line", "strokeWidth": 2.5, "interpolate": "monotone"},
   "encoding": {
    "x": {"field": "x", "type": "quantitative", "scale": {"domain": [-6.29, 6.03], "nice": false, "zero": false},
      "axis": {"orient": "bottom", "values": [-6,-4,-2,0,2,4,6], "tickSize": -4, "labelPadding": 14, "labelExpr": "datum.value < 0 ? '- ' + abs(datum.value) : datum.label", "title": "η", "titleFontSize": 18, "titlePadding": 11}},
    "y": {"field": "y", "type": "quantitative", "scale": {"domain": [-16.2, 311.9], "nice": false, "zero": false},
      "axis": {"orient": "left", "values": [0,50,100,150,200,250,300], "tickSize": -4, "labelPadding": 9, "format": "d", "title": null}},
    "stroke": {"field": "s", "type": "nominal", "legend": null, "scale": {"domain": ["0-5%","5-10%","10-20%","20-30%","30-40%","40-50%","50-60%","60-70%","70-80%","80-90%"], "range": ["#1414b4","#b31414","#20b020","#5e1868","#b9b81e","#b96565","#c4660e","#c41414","#1a1ab8","#30b530"]}}
   }},
  {"data": {"name": "pts_b"}, "mark": {"type": "errorbar", "ticks": {"size": 5, "thickness": 1.2}, "thickness": 1.3},
   "encoding": {
    "x": {"field": "x", "type": "quantitative", "scale": {"domain": [-6.29, 6.03], "nice": false, "zero": false},
      "axis": {"orient": "bottom", "values": [-6,-5.5,-5,-4.5,-4,-3.5,-3,-2.5,-2,-1.5,-1,-0.5,0,0.5,1,1.5,2,2.5,3,3.5,4,4.5,5,5.5,6], "tickSize": -2, "labels": false, "title": null}},
    "y": {"field": "y", "type": "quantitative", "scale": {"domain": [-16.2, 311.9], "nice": false, "zero": false},
      "axis": {"orient": "left", "values": [-10,0,10,20,30,40,50,60,70,80,90,100,110,120,130,140,150,160,170,180,190,200,210,220,230,240,250,260,270,280,290,300,310], "tickSize": -2, "labels": false, "title": null}},
    "yError": {"field": "e"},
    "color": {"field": "s", "type": "nominal", "legend": null, "scale": {"domain": ["0-5%","5-10%","10-20%","20-30%","30-40%","40-50%","50-60%","60-70%","70-80%","80-90%"], "range": ["#1c2590","#8e1818","#2a8f2a","#4e1656","#858225","#6a2c2c","#7a3f12","#8a1414","#1c2a88","#2e8c2e"]}}
   }},
  {"data": {"name": "pts_b"}, "mark": {"type": "point", "filled": true, "size": 26, "opacity": 1},
   "encoding": {
    "x": {"field": "x", "type": "quantitative", "scale": {"domain": [-6.29, 6.03], "nice": false, "zero": false},
      "axis": {"orient": "top", "values": [-6,-4,-2,0,2,4,6], "tickSize": -4, "labels": false, "title": null}},
    "y": {"field": "y", "type": "quantitative", "scale": {"domain": [-16.2, 311.9], "nice": false, "zero": false},
      "axis": {"orient": "right", "values": [0,50,100,150,200,250,300], "tickSize": -4, "labels": false, "title": null}},
    "color": {"field": "s", "type": "nominal", "legend": null, "scale": {"domain": ["0-5%","5-10%","10-20%","20-30%","30-40%","40-50%","50-60%","60-70%","70-80%","80-90%"], "range": ["#1c2590","#8e1818","#2a8f2a","#4e1656","#858225","#6a2c2c","#7a3f12","#8a1414","#1c2a88","#2e8c2e"]}}
   }},
  {"data": {"name": "lab_b"}, "mark": {"type": "text", "font": "Open Sans", "baseline": "middle", "align": "center"},
   "encoding": {
    "x": {"field": "x", "type": "quantitative", "scale": {"domain": [-6.29, 6.03], "nice": false, "zero": false},
      "axis": {"orient": "top", "values": [-6,-5.5,-5,-4.5,-4,-3.5,-3,-2.5,-2,-1.5,-1,-0.5,0,0.5,1,1.5,2,2.5,3,3.5,4,4.5,5,5.5,6], "tickSize": -2, "labels": false, "title": null}},
    "y": {"field": "y", "type": "quantitative", "scale": {"domain": [-16.2, 311.9], "nice": false, "zero": false},
      "axis": {"orient": "right", "values": [-10,0,10,20,30,40,50,60,70,80,90,100,110,120,130,140,150,160,170,180,190,200,210,220,230,240,250,260,270,280,290,300,310], "tickSize": -2, "labels": false, "title": null}},
    "text": {"field": "s"},
    "color": {"condition": {"test": "datum.s === '(b)'", "value": "#8a8a8a"}, "value": "#222"},
    "size": {"condition": {"test": "datum.s === '(b)'", "value": 15}, "value": 12}
   }}
 ]
}
]
}
